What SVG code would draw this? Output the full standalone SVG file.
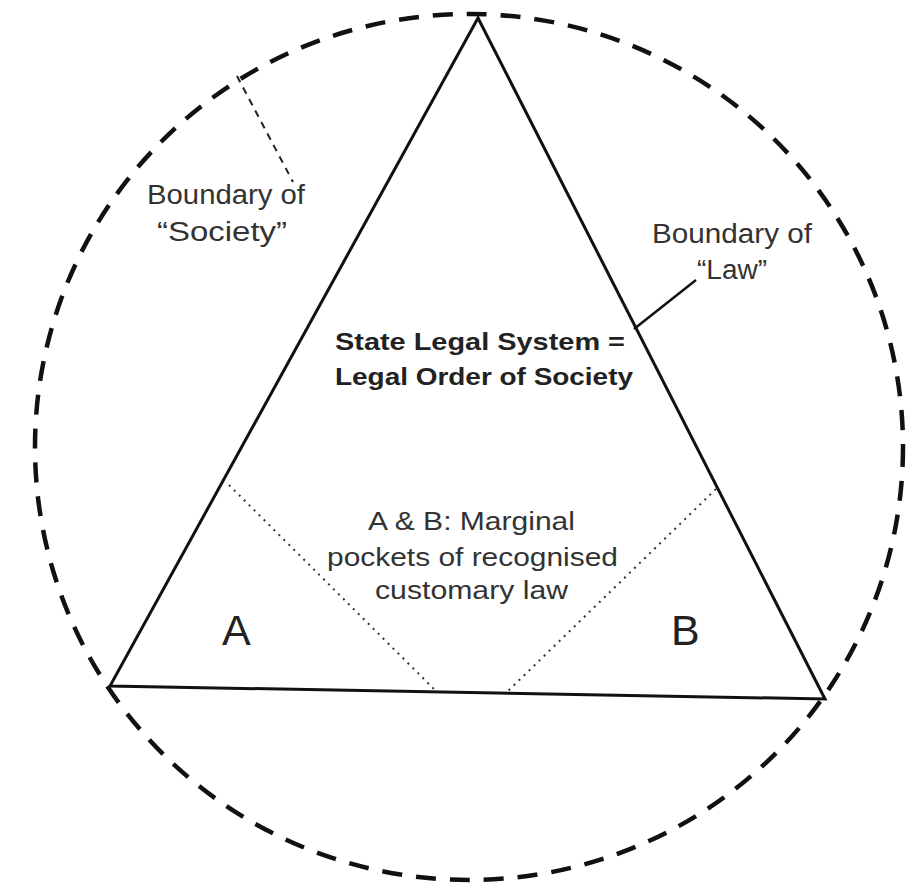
<svg xmlns="http://www.w3.org/2000/svg" width="920" height="885" viewBox="0 0 920 885">
<style>
.lbl{font-family:"Liberation Sans",Arial,sans-serif;fill:#333;}
.bold{font-family:"Liberation Sans",Arial,sans-serif;font-weight:bold;fill:#222;font-size:24px;}
.big{font-family:"Liberation Sans",Arial,sans-serif;fill:#222;font-size:43px;}
.circ{fill:none;stroke:#111;stroke-width:4.5;stroke-dasharray:20 14;}
.tri{fill:none;stroke:#111;stroke-width:3;stroke-linejoin:miter;}
.dot{fill:none;stroke:#333;stroke-width:2;stroke-dasharray:2 5;}
</style>
<rect width="920" height="885" fill="#fff"/>
<g id="society">
<ellipse class="circ" cx="469" cy="447" rx="434" ry="433"/>
</g>
<g id="law">
<polygon class="tri" points="478,18 825,699 110,686"/>
</g>
<g id="connectors">
<line x1="237" y1="76" x2="293" y2="182" stroke="#222" stroke-width="2" stroke-dasharray="7 6"/>
<line x1="696" y1="280" x2="634" y2="329" stroke="#111" stroke-width="2.5"/>
<line class="dot" x1="229" y1="485" x2="435" y2="690"/>
<line class="dot" x1="716" y1="489" x2="508" y2="691"/>
</g>
<g id="label-society">
<text class="lbl" font-size="27" x="147" y="204" textLength="158" lengthAdjust="spacingAndGlyphs">Boundary of</text>
<text class="lbl" font-size="27" x="157" y="241" textLength="130" lengthAdjust="spacingAndGlyphs">“Society”</text>
</g>
<g id="label-law">
<text class="lbl" font-size="27" x="652" y="243" textLength="160" lengthAdjust="spacingAndGlyphs">Boundary of</text>
<text class="lbl" font-size="27" x="697" y="279" textLength="70" lengthAdjust="spacingAndGlyphs">“Law”</text>
</g>
<g id="state">
<text class="bold" x="335" y="350" textLength="290" lengthAdjust="spacingAndGlyphs">State Legal System =</text>
<text class="bold" x="335" y="385" textLength="298" lengthAdjust="spacingAndGlyphs">Legal Order of Society</text>
</g>
<g id="pockets">
<text class="lbl" font-size="26" x="368" y="530" textLength="207" lengthAdjust="spacingAndGlyphs">A &amp; B: Marginal</text>
<text class="lbl" font-size="26" x="327" y="566" textLength="291" lengthAdjust="spacingAndGlyphs">pockets of recognised</text>
<text class="lbl" font-size="26" x="375" y="599" textLength="193" lengthAdjust="spacingAndGlyphs">customary law</text>
</g>
<g id="A"><text class="big" x="222" y="645">A</text></g>
<g id="B"><text class="big" x="671" y="645">B</text></g>
</svg>
